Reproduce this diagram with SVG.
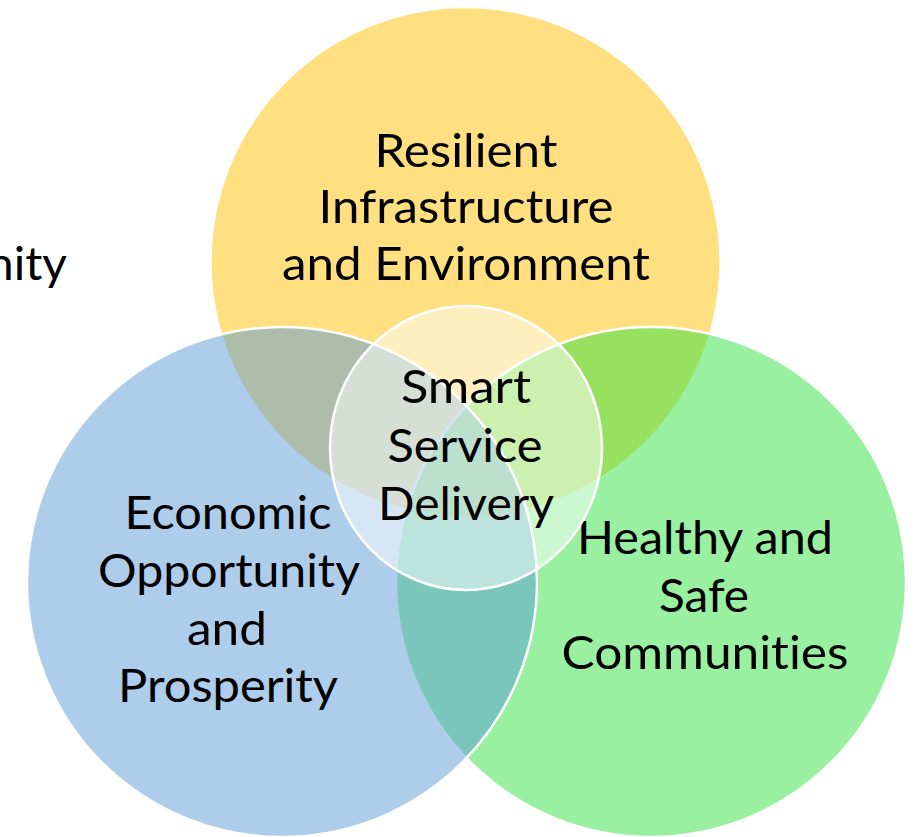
<svg xmlns="http://www.w3.org/2000/svg" width="915" height="837" viewBox="0 0 915 837">
<style>
.c{stroke:#FFFFFF;stroke-width:2.5;fill-opacity:0.5}
.t{font-family:Lato,"Open Sans","Liberation Sans",sans-serif;font-size:47px;fill:#000000;text-anchor:middle;font-variant-ligatures:none;font-feature-settings:"liga" 0,"clig" 0;}
</style>
<rect width="915" height="837" fill="#FFFFFF"/>
<text class="t" x="67" y="280" style="text-anchor:end" textLength="80" lengthAdjust="spacingAndGlyphs">nity</text>
<g id="resilient">
<circle class="c" cx="465.5" cy="262" r="255" fill="#FFC000"/>
<text class="t" x="466" y="167" textLength="183" lengthAdjust="spacingAndGlyphs">Resilient</text>
<text class="t" x="466" y="223" textLength="295" lengthAdjust="spacingAndGlyphs">Infrastructure</text>
<text class="t" x="466" y="280" textLength="368" lengthAdjust="spacingAndGlyphs">and Environment</text>
</g>
<g id="healthy">
<circle class="c" cx="651" cy="582" r="255" fill="#31E141"/>
<text class="t" x="705" y="554" textLength="256" lengthAdjust="spacingAndGlyphs">Healthy and</text>
<text class="t" x="704" y="612" textLength="90" lengthAdjust="spacingAndGlyphs">Safe</text>
<text class="t" x="705" y="669" textLength="287" lengthAdjust="spacingAndGlyphs">Communities</text>
</g>
<g id="economic">
<circle class="c" cx="282" cy="582" r="255" fill="#5B9BD5"/>
<text class="t" x="228" y="529" textLength="207" lengthAdjust="spacingAndGlyphs">Economic</text>
<text class="t" x="229" y="587" textLength="262" lengthAdjust="spacingAndGlyphs">Opportunity</text>
<text class="t" x="227" y="645" textLength="80" lengthAdjust="spacingAndGlyphs">and</text>
<text class="t" x="228" y="702" textLength="220" lengthAdjust="spacingAndGlyphs">Prosperity</text>
</g>
<g id="smart">
<ellipse class="c" cx="466" cy="448" rx="136" ry="142" fill="#FFFFFF"/>
<text class="t" x="466" y="403" textLength="130" lengthAdjust="spacingAndGlyphs">Smart</text>
<text class="t" x="465" y="462" textLength="155" lengthAdjust="spacingAndGlyphs">Service</text>
<text class="t" x="466" y="520" textLength="176" lengthAdjust="spacingAndGlyphs">Delivery</text>
</g>
<g id="connectors"/>
</svg>
